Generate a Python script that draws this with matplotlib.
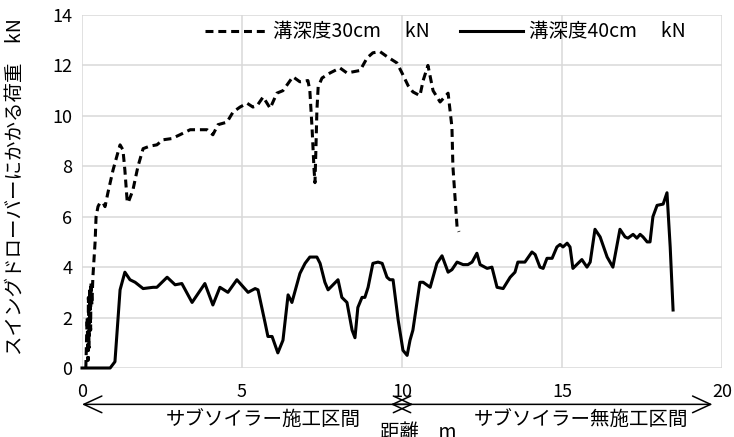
import matplotlib
matplotlib.use("Agg")
import matplotlib.pyplot as plt
import matplotlib.transforms as mtransforms

plt.rcParams["font.family"] = ["Noto Sans CJK JP", "DejaVu Sans"]

# 溝深度30cm (破線)
x30 = [0.12, 0.16, 0.19, 0.2, 0.22, 0.25, 0.27, 0.28, 0.31, 0.34, 0.41, 0.44, 0.5, 0.56,
       0.66, 0.72, 0.81, 0.97, 1.09, 1.19, 1.28, 1.34, 1.41, 1.44, 1.59, 1.75, 1.91, 2.12,
       2.34, 2.53, 2.81, 3.06, 3.38, 3.69, 3.91, 4.09, 4.25, 4.53, 4.72, 4.94, 5.16, 5.34,
       5.47, 5.66, 5.88, 6.09, 6.28, 6.59, 6.81, 7.06, 7.12, 7.19, 7.25, 7.28, 7.31, 7.34,
       7.38, 7.5, 7.75, 8.06, 8.28, 8.69, 8.91, 9.09, 9.31, 9.53, 9.84, 10.0, 10.19, 10.34,
       10.56, 10.66, 10.81, 10.97, 11.19, 11.44, 11.56, 11.59, 11.66, 11.72, 11.78]
y30 = [0.0, 2.0, 0.3, 2.8, 0.8, 3.2, 1.5, 3.4, 2.5, 3.6, 5.0, 6.0, 6.4, 6.55,
       6.55, 6.4, 6.95, 7.85, 8.4, 8.85, 8.65, 7.85, 6.65, 6.55, 7.05, 8.0, 8.7, 8.8,
       8.85, 9.05, 9.1, 9.25, 9.45, 9.45, 9.45, 9.25, 9.65, 9.75, 10.15, 10.35, 10.5, 10.35,
       10.4, 10.75, 10.3, 10.9, 11.0, 11.55, 11.35, 11.4, 11.0, 9.5, 7.9, 7.35, 8.7, 10.2,
       11.15, 11.5, 11.7, 11.9, 11.7, 11.8, 12.3, 12.5, 12.55, 12.35, 12.1, 11.7, 11.2, 10.95,
       10.8, 11.4, 12.0, 11.0, 10.55, 10.9, 9.55, 8.0, 6.7, 5.6, 5.4]

# 溝深度40cm (実線)
x40 = [0.0, 0.88, 1.03, 1.19, 1.34, 1.5, 1.66, 1.91, 2.22, 2.34, 2.66, 2.91, 3.12, 3.44,
       3.84, 4.09, 4.31, 4.56, 4.84, 5.19, 5.41, 5.5, 5.72, 5.81, 5.94, 6.12, 6.28, 6.44,
       6.56, 6.81, 6.97, 7.12, 7.34, 7.44, 7.59, 7.69, 8.0, 8.12, 8.28, 8.44, 8.53, 8.62,
       8.75, 8.84, 8.94, 9.09, 9.25, 9.38, 9.53, 9.62, 9.72, 9.88, 10.03, 10.16, 10.25, 10.34,
       10.56, 10.66, 10.88, 11.09, 11.25, 11.44, 11.56, 11.72, 11.91, 12.06, 12.19, 12.34,
       12.44, 12.66, 12.81, 12.97, 13.16, 13.38, 13.53, 13.62, 13.84, 14.06, 14.16, 14.31,
       14.41, 14.53, 14.69, 14.84, 14.94, 15.03, 15.16, 15.25, 15.34, 15.62, 15.78, 15.88,
       16.03, 16.19, 16.41, 16.59, 16.81, 16.97, 17.06, 17.22, 17.34, 17.44, 17.53, 17.66,
       17.75, 17.84, 17.97, 18.16, 18.28, 18.38, 18.47]
y40 = [0.0, 0.0, 0.25, 3.1, 3.8, 3.5, 3.4, 3.15, 3.2, 3.2, 3.6, 3.3, 3.35, 2.6,
       3.35, 2.5, 3.2, 3.0, 3.5, 3.0, 3.15, 3.1, 1.8, 1.25, 1.25, 0.6, 1.1, 2.9,
       2.6, 3.75, 4.15, 4.4, 4.4, 4.15, 3.4, 3.1, 3.5, 2.8, 2.6, 1.5, 1.2, 2.4,
       2.8, 2.8, 3.2, 4.15, 4.2, 4.15, 3.6, 3.5, 3.5, 1.9, 0.7, 0.5, 1.1, 1.5,
       3.4, 3.4, 3.2, 4.15, 4.45, 3.8, 3.9, 4.2, 4.1, 4.1, 4.2, 4.55,
       4.1, 3.95, 4.0, 3.2, 3.15, 3.6, 3.8, 4.2, 4.2, 4.6, 4.5, 4.0,
       3.95, 4.35, 4.35, 4.8, 4.9, 4.8, 4.95, 4.8, 3.95, 4.3, 4.0, 4.2,
       5.5, 5.2, 4.4, 4.0, 5.5, 5.2, 5.15, 5.3, 5.15, 5.3, 5.2, 5.0,
       5.0, 6.0, 6.45, 6.5, 6.95, 4.8, 2.3]

x_ticks = [0, 5, 10, 15, 20]
y_ticks = [0, 2, 4, 6, 8, 10, 12, 14]

fig = plt.figure(figsize=(7.34, 4.37), dpi=100)
ax = fig.add_axes([0.1117, 0.1579, 0.872, 0.8078])

ax.plot(x30, y30, color="black", linewidth=2.2, linestyle=(0, (2.6, 1.6)),
        label="溝深度30cm　 kN", clip_on=False)
ax.plot(x40, y40, color="black", linewidth=2.2, label="溝深度40cm　 kN", clip_on=False)

ax.set_xlim(0, 20)
ax.set_ylim(0, 14)
ax.set_xticks(x_ticks)
ax.set_yticks(y_ticks)
ax.grid(True, color="#d9d9d9", linewidth=1.1)
ax.set_axisbelow(True)
for s in ax.spines.values():
    s.set_visible(False)
ax.tick_params(axis="both", length=0, labelsize=13)
ax.tick_params(axis="x", pad=11)
ax.tick_params(axis="y", pad=7)

ax.set_ylabel("スイングドローバーにかかる荷重　kN", fontsize=14)
ax.yaxis.set_label_coords(-0.088, 0.515)

ax.legend(loc="center", bbox_to_anchor=(0.567, 0.952), ncol=2, frameon=False,
          fontsize=14, handlelength=3.2, handletextpad=0.3, columnspacing=1.6)

# 区間の矢印と注記
trans = mtransforms.blended_transform_factory(ax.transData, ax.transAxes)
arrow = dict(arrowstyle="<->,head_length=1.3,head_width=0.6", color="black", linewidth=1.1,
             shrinkA=0, shrinkB=0)
ax.annotate("", xy=(10.35, -0.103), xytext=(0.0, -0.103), xycoords=trans, textcoords=trans,
            arrowprops=arrow, annotation_clip=False)
ax.annotate("", xy=(19.7, -0.103), xytext=(9.65, -0.103), xycoords=trans, textcoords=trans,
            arrowprops=arrow, annotation_clip=False)
ax.text(5.65, -0.149, "サブソイラー施工区間", transform=trans, ha="center", va="center",
        fontsize=14)
ax.text(15.6, -0.149, "サブソイラー無施工区間", transform=trans, ha="center", va="center",
        fontsize=14)
ax.text(10.5, -0.183, "距離　m", transform=trans, ha="center", va="center", fontsize=14)

fig.savefig("out.png", dpi=100)
